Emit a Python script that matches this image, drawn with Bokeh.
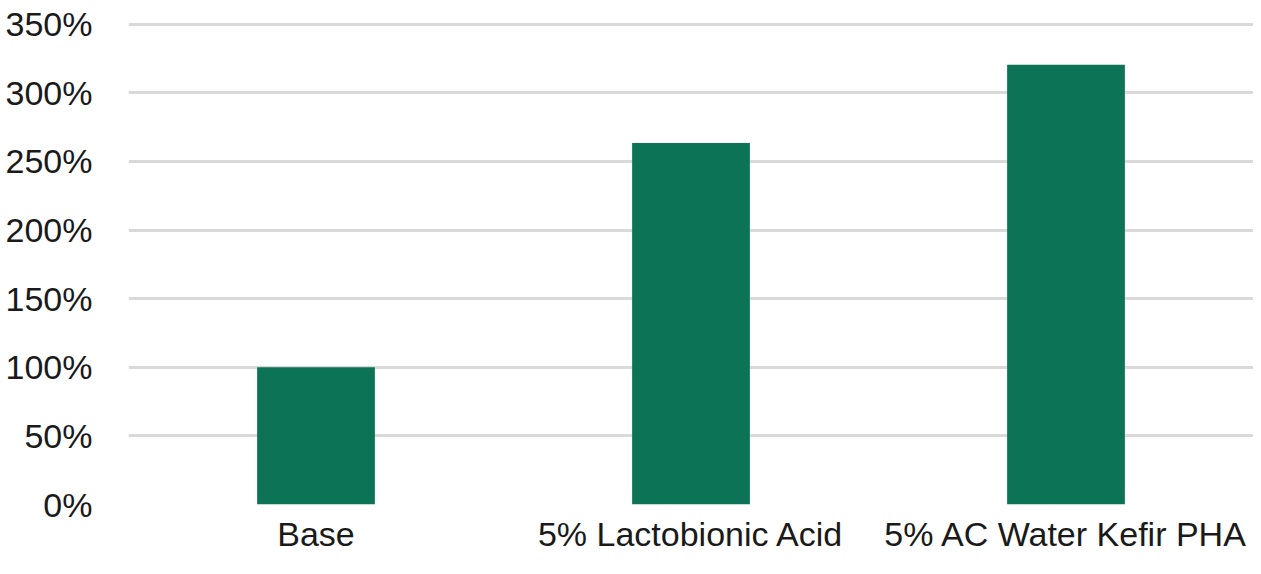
from bokeh.plotting import figure
from bokeh.models import ColumnDataSource, FixedTicker, PrintfTickFormatter, Range1d, FactorRange
from bokeh.embed import file_html
from bokeh.resources import INLINE

categories = ["Base", "5% Lactobionic Acid", "5% AC Water Kefir PHA"]
values = [100, 263.5, 320.5]
y_ticks = [0, 50, 100, 150, 200, 250, 300, 350]

FONT = "Liberation Sans"
BAR_COLOR = "#0D7356"

source = ColumnDataSource(data=dict(cat=categories, val=values))

p = figure(
    x_range=FactorRange(*categories, range_padding=0),
    y_range=Range1d(0, 352),
    width=1253, height=558,
    output_backend="svg", toolbar_location=None,
    min_border_left=128, min_border_right=0,
    min_border_top=21, min_border_bottom=54,
    outline_line_color=None,
    background_fill_color="white", border_fill_color="white",
)

p.vbar(x="cat", top="val", width=0.314, source=source,
       fill_color=BAR_COLOR, line_color=None)

p.yaxis.ticker = FixedTicker(ticks=y_ticks)
p.yaxis.formatter = PrintfTickFormatter(format="%d%%")

for ax in (p.xaxis[0], p.yaxis[0]):
    ax.axis_line_color = None
    ax.major_tick_line_color = None
    ax.minor_tick_line_color = None
    ax.major_label_text_font = FONT
    ax.major_label_text_font_size = "34px"
    ax.major_label_text_color = "#1a1a1a"

p.yaxis.major_label_standoff = 30
p.xaxis.major_label_standoff = 4

p.xgrid.grid_line_color = None
p.ygrid.grid_line_color = "#D9D9D9"
p.ygrid.grid_line_width = 3
p.ygrid.level = "underlay"

open("out.html", "w").write(file_html(p, INLINE))
